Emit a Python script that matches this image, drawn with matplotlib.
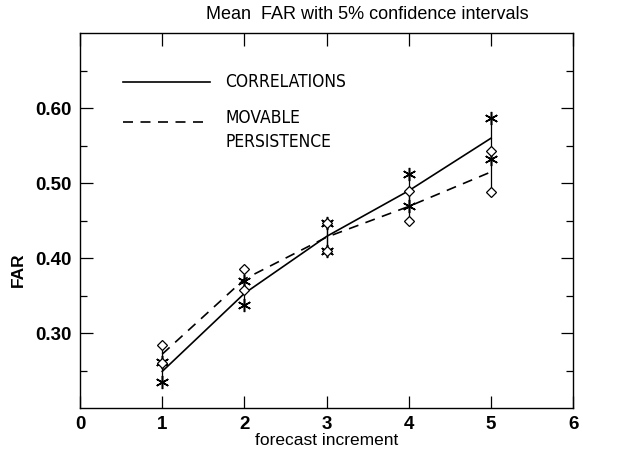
import matplotlib
matplotlib.use("Agg")
import matplotlib.pyplot as plt
from matplotlib.ticker import FixedLocator

# forecast increments
increments = [1, 2, 3, 4, 5]

# CORRELATIONS: mean FAR and 5% confidence bounds
corr_mean = [0.249, 0.353, 0.429, 0.490, 0.560]
corr_low = [0.235, 0.338, 0.410, 0.469, 0.532]
corr_high = [0.262, 0.369, 0.447, 0.512, 0.587]

# MOVABLE PERSISTENCE: mean FAR and 5% confidence bounds
pers_mean = [0.272, 0.372, 0.428, 0.469, 0.515]
pers_low = [0.260, 0.358, 0.410, 0.449, 0.488]
pers_high = [0.284, 0.386, 0.447, 0.490, 0.543]

x_ticks = [0, 1, 2, 3, 4, 5, 6]
y_ticks = [0.30, 0.40, 0.50, 0.60]
y_minor = [0.25, 0.35, 0.45, 0.55, 0.65]

plt.rcParams["font.family"] = ["Liberation Sans", "DejaVu Sans"]
dash = (0, (6, 4.5))

fig = plt.figure(figsize=(6.30, 4.54), dpi=100)
ax = fig.add_axes([0.127, 0.101, 0.783, 0.826])

# mean curves
ax.plot(increments, corr_mean, color="black", lw=1.2, ls="-")
ax.plot(increments, pers_mean, color="black", lw=1.2, ls=dash)

# confidence interval bars with end markers
for x, lo, hi in zip(increments, corr_low, corr_high):
    ax.plot([x, x], [lo, hi], color="black", lw=0.9)
for x, lo, hi in zip(increments, pers_low, pers_high):
    ax.plot([x, x], [lo, hi], color="black", lw=0.9)
ax.plot(increments + increments, corr_low + corr_high, ls="none",
        marker=(6, 2, 0), ms=9.5, mew=1.1, color="black")
ax.plot(increments + increments, pers_low + pers_high, ls="none",
        marker="D", ms=5.5, mew=0.9, mfc="white", mec="black")

ax.set_xlim(0, 6)
ax.set_ylim(0.2, 0.7)
ax.xaxis.set_major_locator(FixedLocator(x_ticks))
ax.yaxis.set_major_locator(FixedLocator(y_ticks))
ax.yaxis.set_minor_locator(FixedLocator(y_minor))
ax.set_yticklabels(["%.2f" % v for v in y_ticks])
ax.tick_params(which="both", direction="in", top=True, right=True,
               labelsize=13.5, width=0.9, pad=6)
ax.tick_params(which="major", length=9)
ax.tick_params(which="minor", length=5)
for lbl in ax.get_xticklabels() + ax.get_yticklabels():
    lbl.set_fontweight("bold")
for s in ax.spines.values():
    s.set_linewidth(1.0)

fig.text(0.583, 0.969, "Mean  FAR with 5% confidence intervals",
         ha="center", va="center", fontsize=13)
ax.set_xlabel("forecast increment", fontsize=12.5, labelpad=0)
ax.set_ylabel("FAR", fontsize=12.5, fontweight="bold")
ax.yaxis.set_label_coords(-0.110, 0.368)

# hand-drawn legend
ax.plot([0.087, 0.264], [0.869, 0.869], transform=ax.transAxes,
        color="black", lw=1.2)
ax.plot([0.087, 0.264], [0.763, 0.763], transform=ax.transAxes,
        color="black", lw=1.2, ls=dash)
legend_kw = dict(transform=ax.transAxes, va="center", ha="left",
                 fontsize=12.5, family="DejaVu Sans", stretch="condensed")
ax.text(0.294, 0.869, "CORRELATIONS", **legend_kw)
ax.text(0.294, 0.773, "MOVABLE", **legend_kw)
ax.text(0.294, 0.709, "PERSISTENCE", **legend_kw)

fig.savefig("out.png", dpi=100)
